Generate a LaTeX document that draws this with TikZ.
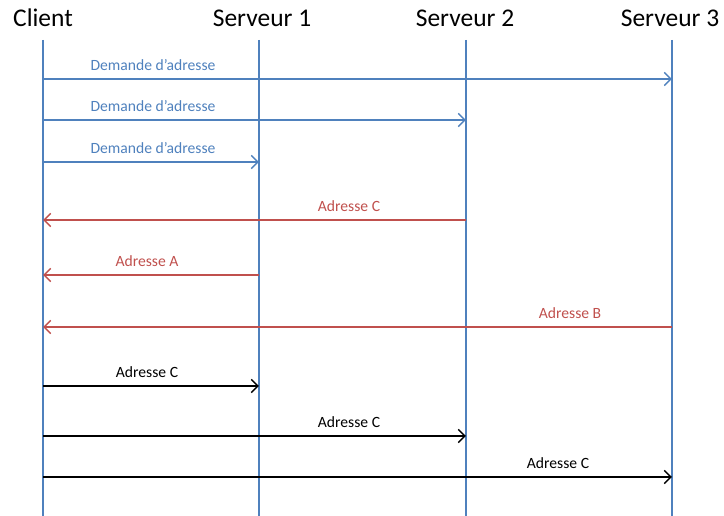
\documentclass[tikz,border=0pt]{standalone}
\usepackage{fontspec}
\setmainfont{Carlito}
\usetikzlibrary{arrows.meta,positioning,calc}
\usepackage{xcolor}
\definecolor{askblue}{RGB}{79,129,189}
\definecolor{replyred}{RGB}{192,80,77}

\begin{document}
\begin{tikzpicture}[x=0.02cm, y=-0.02cm,
    lifeline/.style={askblue, line width=0.7pt},
    msg/.style={line width=0.8pt, -{Straight Barb[length=3.8pt,width=7.5pt]}},
    head/.style={font=\fontsize{14.5}{16}\selectfont, inner sep=0pt, anchor=base},
    lbl/.style={font=\fontsize{8.9}{10}\selectfont, inner sep=0pt}]
    \useasboundingbox (0,0) rectangle (724,516);

    % Headers and lifelines
    \foreach \name/\hx/\lx/\txt in {cl/43/43/Client, sa/262/259/Serveur 1,
                                    sb/465/466/Serveur 2, sc/670/672/Serveur 3} {
        \node[head] (h\name) at (\hx,27) {\txt};
        \coordinate (\name) at (\lx,40);
        \draw[lifeline] (\name) -- (\name |- 0,516);
    }

    % Address requests
    \foreach \i/\dst/\y in {1/sc/79, 2/sb/120, 3/sa/162} {
        \draw[msg, askblue] (cl |- 0,\y) -- (\dst |- 0,\y);
        \node[lbl, askblue] (ask\i) at (153,{\y-14}) {Demande d’adresse};
    }

    % Replies
    \foreach \i/\src/\y/\lx/\txt in {1/sb/220/349/Adresse C, 2/sa/275/147/Adresse A,
                                     3/sc/327/570/Adresse B} {
        \draw[msg, replyred] (\src |- 0,\y) -- (cl |- 0,\y);
        \node[lbl, replyred] (rep\i) at (\lx,{\y-14}) {\txt};
    }

    % Chosen address
    \foreach \i/\dst/\y/\lx in {1/sa/386/147, 2/sb/436/349, 3/sc/477/558} {
        \draw[msg, black] (cl |- 0,\y) -- (\dst |- 0,\y);
        \node[lbl, black] (sel\i) at (\lx,{\y-14}) {Adresse C};
    }
\end{tikzpicture}
\end{document}
